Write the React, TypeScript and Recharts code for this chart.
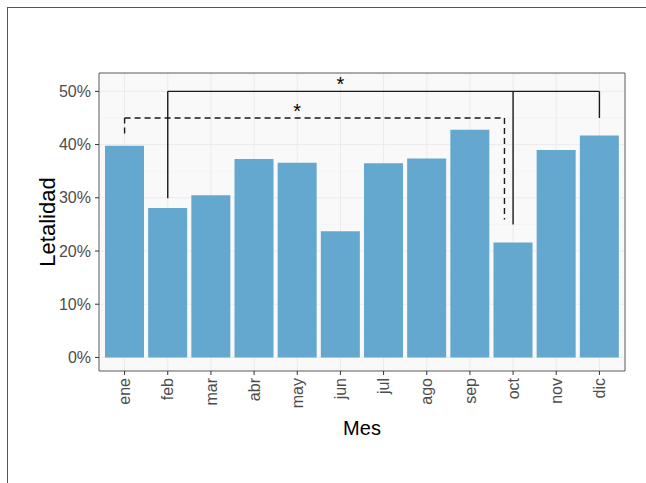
import React from 'react';
import {
  ComposedChart,
  Bar,
  XAxis,
  YAxis,
  CartesianGrid,
  ReferenceLine,
  ReferenceDot,
} from 'recharts';

// ---- data ----
const months = ['ene', 'feb', 'mar', 'abr', 'may', 'jun', 'jul', 'ago', 'sep', 'oct', 'nov', 'dic'];
const letalidad = [0.398, 0.281, 0.305, 0.373, 0.366, 0.237, 0.365, 0.374, 0.428, 0.216, 0.39, 0.417];
const yTicks = [0, 0.1, 0.2, 0.3, 0.4, 0.5];
const yMinor = [0.05, 0.15, 0.25, 0.35, 0.45];
const monthPos = [1, 2, 3, 4, 5, 6, 7, 8, 9, 10, 11, 12];
const yDomain = [-0.0255, 0.5345];

// significance brackets (x in month index, y in proportion)
const solidSegments = [
  [{ x: 2, y: 0.299 }, { x: 2, y: 0.5 }],
  [{ x: 2, y: 0.5 }, { x: 12, y: 0.5 }],
  [{ x: 10, y: 0.5 }, { x: 10, y: 0.25 }],
  [{ x: 12, y: 0.5 }, { x: 12, y: 0.45 }],
];
const dashedSegments = [
  [{ x: 1, y: 0.421 }, { x: 1, y: 0.45 }],
  [{ x: 1, y: 0.45 }, { x: 9.8, y: 0.45 }],
  [{ x: 9.8, y: 0.45 }, { x: 9.8, y: 0.259 }],
];
const stars = [
  { x: 6, y: 0.5, label: '*' },
  { x: 5, y: 0.45, label: '*' },
];

const data = months.map((m, i) => ({ m, v: letalidad[i] }));

const FONT = '"Liberation Sans", Arial, Helvetica, sans-serif';
const BAR = '#64A7CF';
const TICK_COL = '#4D4D4D';
const LINE_COL = '#333333';
const BORDER_COL = '#5a5a5a';

const XTick = (props: any) => {
  const { x, y, payload } = props;
  return (
    <text
      x={x}
      y={y}
      transform={`rotate(-90, ${x}, ${y})`}
      textAnchor="end"
      dy="0.35em"
      fontSize={16}
      fill={TICK_COL}
      fontFamily={FONT}
    >
      {payload.value}
    </text>
  );
};

const YTitle = (props: any) => {
  const vb = props.viewBox || { x: 39, y: 73, width: 60, height: 298 };
  const x = vb.x + 16;
  const y = vb.y + vb.height / 2;
  return (
    <text
      x={x}
      y={y}
      transform={`rotate(-90, ${x}, ${y})`}
      textAnchor="middle"
      fontSize={22}
      fill="#000"
      fontFamily={FONT}
    >
      Letalidad
    </text>
  );
};

export default function App() {
  return (
    <div
      style={{
        position: 'absolute',
        left: 0,
        top: 0,
        width: 646,
        height: 483,
        overflow: 'hidden',
        background: '#fff',
        fontFamily: FONT,
      }}
    >
      <div
        style={{
          position: 'absolute',
          left: 7,
          top: 7,
          width: 800,
          height: 700,
          borderTop: '1px solid #555',
          borderLeft: '1px solid #555',
        }}
      />
      <div style={{ position: 'absolute', left: 0, top: 0 }}>
        <ComposedChart
          width={646}
          height={483}
          data={data}
          margin={{ top: 72, right: 20, bottom: 72, left: 39 }}
        >
          <CartesianGrid
            xAxisId="num"
            yAxisId="left"
            horizontalValues={yMinor}
            vertical={false}
            stroke="#F1F1F1"
            strokeWidth={0.6}
            fill="#F9F9F9"
          />
          <CartesianGrid
            xAxisId="num"
            yAxisId="left"
            horizontalValues={yTicks}
            verticalValues={monthPos}
            stroke="#EBEBEB"
            strokeWidth={1}
          />
          <XAxis
            xAxisId="cat"
            dataKey="m"
            height={40}
            padding={{ left: 4, right: 4 }}
            tickSize={4}
            tickMargin={3}
            tickLine={{ stroke: LINE_COL }}
            axisLine={{ stroke: BORDER_COL }}
            tick={<XTick />}
            interval={0}
            label={{ value: 'Mes', position: 'bottom', offset: 10, fontSize: 20, fill: '#000' }}
          />
          <XAxis
            xAxisId="num"
            type="number"
            dataKey="m"
            domain={[0.5, 12.5]}
            padding={{ left: 4, right: 4 }}
            hide
            allowDataOverflow
          />
          <XAxis
            xAxisId="top"
            orientation="top"
            dataKey="m"
            height={1}
            tick={false}
            tickLine={false}
            axisLine={{ stroke: BORDER_COL }}
          />
          <YAxis
            yAxisId="left"
            width={60}
            domain={yDomain}
            ticks={yTicks}
            allowDataOverflow
            tickFormatter={(v: number) => `${Math.round(v * 100)}%`}
            tickSize={4}
            tickMargin={4}
            tickLine={{ stroke: LINE_COL }}
            axisLine={{ stroke: BORDER_COL }}
            tick={{ fontSize: 16, fill: TICK_COL }}
            label={<YTitle />}
          />
          <YAxis
            yAxisId="right"
            orientation="right"
            width={1}
            domain={yDomain}
            tick={false}
            tickLine={false}
            axisLine={{ stroke: BORDER_COL }}
            allowDataOverflow
          />
          <Bar
            xAxisId="cat"
            yAxisId="left"
            dataKey="v"
            fill={BAR}
            barSize={39}
            isAnimationActive={false}
          />
          {solidSegments.map((s, i) => (
            <ReferenceLine
              key={`s${i}`}
              xAxisId="num"
              yAxisId="left"
              segment={s}
              stroke="#1a1a1a"
              strokeWidth={1.4}
              ifOverflow="visible"
            />
          ))}
          {dashedSegments.map((s, i) => (
            <ReferenceLine
              key={`d${i}`}
              xAxisId="num"
              yAxisId="left"
              segment={s}
              stroke="#1a1a1a"
              strokeWidth={1.4}
              strokeDasharray="6 4"
              ifOverflow="visible"
            />
          ))}
          {stars.map((s, i) => (
            <ReferenceDot
              key={`st${i}`}
              xAxisId="num"
              yAxisId="left"
              x={s.x}
              y={s.y}
              r={0}
              fill="none"
              stroke="none"
              ifOverflow="visible"
              label={{ value: s.label, position: 'top', offset: 0, fontSize: 20, fill: '#000' }}
            />
          ))}
        </ComposedChart>
      </div>
    </div>
  );
}
